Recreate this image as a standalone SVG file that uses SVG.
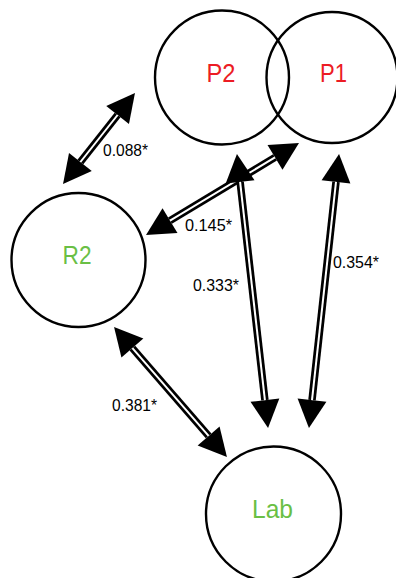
<svg xmlns="http://www.w3.org/2000/svg" width="396" height="578" viewBox="0 0 396 578">
<defs>
<marker id="head" markerUnits="userSpaceOnUse" markerWidth="30" markerHeight="30" viewBox="0 -15 29 30" refX="0" refY="0" orient="auto-start-reverse" overflow="visible">
<path d="M0,-14.5 L28,0 L0,14.5 Z" fill="#000"/>
</marker>
</defs>
<style>
.node{fill:none;stroke:#000;stroke-width:2.4}
.nm{font-family:"Liberation Sans",Arial,sans-serif;font-size:25px;text-anchor:middle}
.red{fill:#ec1c24}
.green{fill:#6abf45}
.outer{stroke:#000;stroke-width:7.5;fill:none;marker-start:url(#head);marker-end:url(#head)}
.inner{stroke:#fff;stroke-width:2;fill:none}
.lbl{font-family:"Liberation Sans",Arial,sans-serif;font-size:16px;fill:#000}
</style>
<rect width="396" height="578" fill="#fff"/>
<g id="connectors">
<path class="outer" d="M117.6,115 L80.4,162"/>
<path class="inner" d="M117.6,115 L80.4,162"/>
<path class="outer" d="M275,157.4 L170,220.6"/>
<path class="inner" d="M275,157.4 L170,220.6"/>
<path class="outer" d="M240.1,181.8 L264.9,400.2"/>
<path class="inner" d="M240.1,181.8 L264.9,400.2"/>
<path class="outer" d="M336,181.8 L312,400.2"/>
<path class="inner" d="M336,181.8 L312,400.2"/>
<path class="outer" d="M132.4,348.1 L208.6,435.9"/>
<path class="inner" d="M132.4,348.1 L208.6,435.9"/>
<text class="lbl" x="103" y="156" textLength="45" lengthAdjust="spacingAndGlyphs">0.088*</text>
<text class="lbl" x="185" y="231" textLength="47" lengthAdjust="spacingAndGlyphs">0.145*</text>
<text class="lbl" x="193" y="291" textLength="46" lengthAdjust="spacingAndGlyphs">0.333*</text>
<text class="lbl" x="333" y="268" textLength="46" lengthAdjust="spacingAndGlyphs">0.354*</text>
<text class="lbl" x="112" y="411" textLength="45" lengthAdjust="spacingAndGlyphs">0.381*</text>
</g>
<g id="P2">
<circle class="node" cx="222" cy="77.5" r="67"/>
<text class="nm red" x="221" y="82" textLength="29" lengthAdjust="spacingAndGlyphs">P2</text>
</g>
<g id="P1">
<circle class="node" cx="332" cy="77.5" r="65.5"/>
<text class="nm red" x="333.5" y="82" textLength="27" lengthAdjust="spacingAndGlyphs">P1</text>
</g>
<g id="R2">
<circle class="node" cx="78.5" cy="260" r="67"/>
<text class="nm green" x="77" y="264" textLength="29" lengthAdjust="spacingAndGlyphs">R2</text>
</g>
<g id="Lab">
<circle class="node" cx="273.5" cy="514" r="67.5"/>
<text class="nm green" x="272.5" y="518" textLength="41" lengthAdjust="spacingAndGlyphs">Lab</text>
</g>
</svg>
